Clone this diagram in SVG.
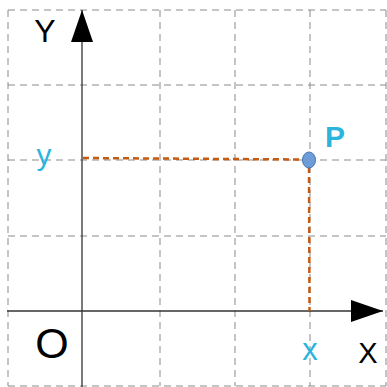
<svg xmlns="http://www.w3.org/2000/svg" width="387" height="387" viewBox="0 0 387 387">
<style>
.grid{stroke:#8a8a8a;stroke-width:1;stroke-dasharray:7 5;fill:none}
.axis{stroke:#333;stroke-width:1.3;fill:none}
.guide{stroke:#c55a11;stroke-width:2.5;stroke-dasharray:6 4;fill:none}
.lbl{font-family:"Liberation Sans",Arial,sans-serif;fill:#000}
.cy{fill:#2bb5dd}
</style>
<defs>
<marker id="arr" viewBox="0 0 32 22" refX="32" refY="11" markerWidth="32" markerHeight="22" markerUnits="userSpaceOnUse" orient="auto">
<path d="M0,0 L32,11 L0,22 Z" fill="#000"/>
</marker>
</defs>
<g id="grid">
<path class="grid" d="M8,10 H386 M8,85 H386 M8,160 H386 M8,236 H386 M8,386 H386"/>
<path class="grid" d="M8,10 V386 M160,10 V386 M235,10 V386 M310,10 V386 M386,10 V386"/>
</g>
<g id="connectors">
<line id="x-axis" class="axis" x1="7" y1="311" x2="383" y2="311" marker-end="url(#arr)"/>
<line id="y-axis" class="axis" x1="82" y1="387" x2="82" y2="10" marker-end="url(#arr)"/>
<path class="guide" d="M83,158 L303,159.5"/>
<path class="guide" d="M309,167 L309.5,311"/>
</g>
<g id="P">
<ellipse cx="309" cy="160" rx="6.5" ry="8" fill="#6d9cd6" stroke="#4a76b0" stroke-width="1"/>
<text class="lbl cy" x="335" y="147" font-size="30" font-weight="bold" text-anchor="middle">P</text>
</g>
<g id="labels">
<text class="lbl" x="45" y="42" font-size="32" text-anchor="middle">Y</text>
<text class="lbl cy" x="44" y="165" font-size="30" text-anchor="middle">y</text>
<text class="lbl cy" x="310" y="360" font-size="31" text-anchor="middle">x</text>
<text class="lbl" x="368" y="363" font-size="29" text-anchor="middle">X</text>
<text class="lbl" x="52" y="358" font-size="43" text-anchor="middle">O</text>
</g>
</svg>
